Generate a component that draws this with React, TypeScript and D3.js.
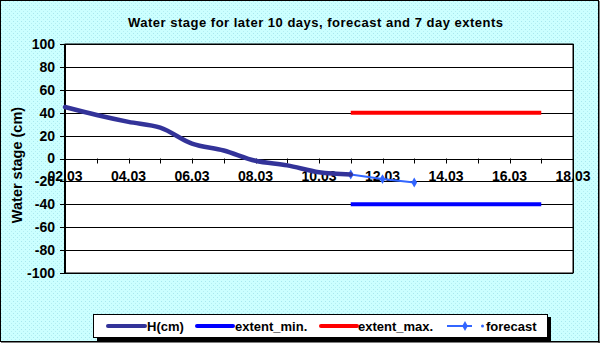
import React from "react";
import * as d3 from "d3";

const title = "Water stage for later 10 days, forecast and 7 day extents";
const yTitle = "Water stage (cm)";
const xTickDays = [2, 4, 6, 8, 10, 12, 14, 16, 18];
const xTickLabels = ["02.03", "04.03", "06.03", "08.03", "10.03", "12.03", "14.03", "16.03", "18.03"];
const yTicks = [100, 80, 60, 40, 20, 0, -20, -40, -60, -80, -100];

const hDays = [2, 3, 4, 5, 6, 7, 8, 9, 10, 11];
const hValues = [45, 38, 32, 27, 13, 7, -2, -6, -12, -14];

const forecastDays = [11, 12, 13];
const forecastValues = [-14, -18, -21];

const extentDays = [11, 17];
const extentMin = [-40, -40];
const extentMax = [40, 40];

const legendLabels = ["H(cm)", "extent_min.", "extent_max.", "forecast"];

export default function App() {
  const W = 600, H = 343;
  const left = 65, right = 573, top = 44, bottom = 273;
  const x = d3.scaleLinear().domain([2, 18]).range([left, right]);
  const y = d3.scaleLinear().domain([-100, 100]).range([bottom, top]);

  const hLine = d3.line<number>()
    .x((_, i) => x(hDays[i]))
    .y((d) => y(d))
    .curve(d3.curveCatmullRom.alpha(0.5));
  const fLine = d3.line<number>().x((_, i) => x(forecastDays[i])).y((d) => y(d));
  const eMinLine = d3.line<number>().x((_, i) => x(extentDays[i])).y((d) => y(d));
  const eMaxLine = d3.line<number>().x((_, i) => x(extentDays[i])).y((d) => y(d));

  const dayTicks = d3.range(2, 19);
  const font = "Arial, 'Liberation Sans', sans-serif";
  const diamond = d3.symbol().type(d3.symbolDiamond).size(28)() as string;

  return (
    <svg width={W} height={H} style={{ position: "absolute", left: 0, top: 0 }} fontFamily={font}>
      <defs>
        <pattern id="dots" width="4" height="4" patternUnits="userSpaceOnUse">
          <rect width="4" height="4" fill="#CCFFFF" />
          <rect x="1" y="1" width="1" height="1" fill="#A8E8EE" />
          <rect x="3" y="3" width="1" height="1" fill="#B4EEF2" />
        </pattern>
      </defs>
      <rect x={0.5} y={0.5} width={W - 2} height={H - 2} fill="url(#dots)" stroke="#000" strokeWidth={1} />
      <line x1={W - 1} x2={W - 1} y1={1} y2={H} stroke="#000" strokeWidth={1} />
      <line x1={1} x2={W} y1={H - 1} y2={H - 1} stroke="#000" strokeWidth={1} />

      <text x={315.5} y={26.5} textAnchor="middle" fontSize={13} fontWeight="bold" fill="#000"
        textLength={375} lengthAdjust="spacing">{title}</text>

      <rect x={left} y={top} width={right - left} height={bottom - top} fill="#fff" stroke="#000" strokeWidth={1} />
      {yTicks.map((t) => (
        <g key={t}>
          <line x1={left} x2={right} y1={Math.round(y(t)) + 0.5} y2={Math.round(y(t)) + 0.5} stroke="#000" strokeWidth={1} />
          <line x1={left - 5} x2={left} y1={Math.round(y(t)) + 0.5} y2={Math.round(y(t)) + 0.5} stroke="#000" strokeWidth={1} />
          <text x={55} y={y(t)} dy="0.35em" textAnchor="end" fontSize={14} fontWeight="bold" fill="#000">{t}</text>
        </g>
      ))}
      <line x1={left} x2={left} y1={top} y2={bottom} stroke="#000" strokeWidth={2} />
      <line x1={right + 0.5} x2={right + 0.5} y1={top} y2={bottom} stroke="#000" strokeWidth={1} />

      {dayTicks.map((d) => (
        <line key={d} x1={Math.round(x(d)) + 0.5} x2={Math.round(x(d)) + 0.5} y1={y(0)} y2={y(0) + 5} stroke="#000" strokeWidth={1} />
      ))}
      {xTickDays.map((d, i) => (
        <text key={d} x={x(d)} y={181} textAnchor="middle" fontSize={14} fontWeight="bold" fill="#000">{xTickLabels[i]}</text>
      ))}

      <text transform={`translate(22,${165}) rotate(-90)`} textAnchor="middle" fontSize={14.5} fontWeight="bold" fill="#000">{yTitle}</text>

      <path d={eMaxLine(extentMax) as string} stroke="#FF0000" strokeWidth={4} fill="none" />
      <path d={eMinLine(extentMin) as string} stroke="#0000FF" strokeWidth={4} fill="none" />
      <path d={fLine(forecastValues) as string} stroke="#3366FF" strokeWidth={2} fill="none" />
      {forecastValues.map((v, i) => (
        <path key={i} d={diamond} transform={`translate(${x(forecastDays[i])},${y(v)})`} fill="#3366FF" />
      ))}
      <path d={hLine(hValues) as string} stroke="#333399" strokeWidth={4.5} fill="none" strokeLinecap="round" />

      <g>
        <rect x={97} y={317} width={454} height={24} fill="#000" />
        <rect x={93.5} y={314.5} width={454} height={23} fill="#fff" stroke="#000" strokeWidth={1} />
        <line x1={108} x2={145} y1={326} y2={326} stroke="#333399" strokeWidth={4} strokeLinecap="round" />
        <text x={147} y={330.5} fontSize={13} fontWeight="bold" fill="#000">{legendLabels[0]}</text>
        <line x1={197} x2={233} y1={326} y2={326} stroke="#0000FF" strokeWidth={4} strokeLinecap="round" />
        <text x={235} y={330.5} fontSize={13} fontWeight="bold" fill="#000">{legendLabels[1]}</text>
        <line x1={321} x2={357} y1={326} y2={326} stroke="#FF0000" strokeWidth={4} strokeLinecap="round" />
        <text x={358} y={330.5} fontSize={13} fontWeight="bold" fill="#000">{legendLabels[2]}</text>
        <line x1={447} x2={472} y1={326} y2={326} stroke="#3366FF" strokeWidth={2} />
        <path d={diamond} transform="translate(465,326)" fill="#3366FF" />
        <circle cx={482.5} cy={326} r={1.5} fill="#3366FF" />
        <text x={486} y={330.5} fontSize={13} fontWeight="bold" fill="#000">{legendLabels[3]}</text>
      </g>
    </svg>
  );
}
